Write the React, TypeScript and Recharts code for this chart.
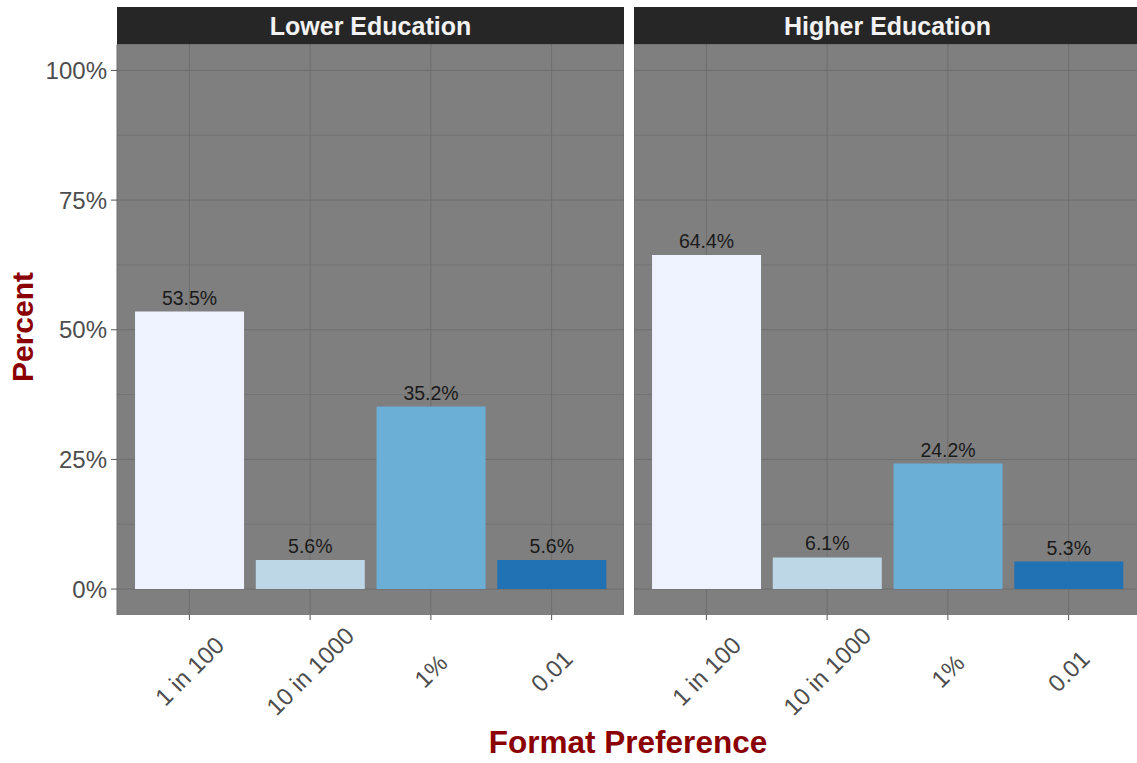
import React from "react";
import {
  Bar,
  BarChart,
  CartesianGrid,
  Cell,
  LabelList,
  XAxis,
  YAxis,
} from "recharts";

const formats = ["1 in 100", "10 in 1000", "1%", "0.01"];
const lowerPct = [53.5, 5.6, 35.2, 5.6];
const higherPct = [64.4, 6.1, 24.2, 5.3];
const fills = ["#eff3ff", "#bdd7e7", "#6baed6", "#2171b5"];
const yTicks = [0, 25, 50, 75, 100];
const yMinor = [12.5, 37.5, 62.5, 87.5];
const panels = ["Lower Education", "Higher Education"];

const FONT = "'Liberation Sans', Arial, Helvetica, sans-serif";
const PANEL_BG = "#7f7f7f";
const GRID_MAJOR = "#6e6e6e";
const GRID_MINOR = "#747474";
const TITLE_RED = "#8b0000";

const PLOT_TOP = 44.5;
const PLOT_BOTTOM = 615;
const CHART_H = 763;

function XTick(props: any) {
  const { x, y, payload } = props;
  const cy = y + 51;
  return (
    <text
      x={x}
      y={cy}
      textAnchor="middle"
      dominantBaseline="central"
      transform={`rotate(-45, ${x}, ${cy})`}
      fontSize={24}
      fontFamily={FONT}
      fill="#4d4d4d"
    >
      {payload.value}
    </text>
  );
}

function Panel({ values, showY }: { values: number[]; showY: boolean }) {
  const data = formats.map((f, i) => ({ format: f, pct: values[i] }));
  const yWidth = showY ? 117 : 0;
  return (
    <BarChart
      width={yWidth + 507}
      height={CHART_H}
      data={data}
      margin={{ top: PLOT_TOP, right: 0, bottom: 0, left: 0 }}
      barCategoryGap="5%"
    >
      {/* minor grid + panel fill, then major grid on top of it */}
      <CartesianGrid
        fill={PANEL_BG}
        stroke={GRID_MINOR}
        vertical={false}
        horizontalValues={yMinor}
      />
      <CartesianGrid
        stroke={GRID_MAJOR}
        strokeWidth={1}
        horizontalValues={yTicks}
        vertical={true}
      />
      <XAxis
        dataKey="format"
        height={CHART_H - PLOT_BOTTOM}
        padding={{ left: 12, right: 12 }}
        axisLine={false}
        tickLine={{ stroke: "#555555" }}
        tickSize={5}
        tickMargin={0}
        interval={0}
        tick={<XTick />}
      />
      <YAxis
        hide={!showY}
        width={yWidth}
        domain={[-5, 105]}
        ticks={yTicks}
        allowDataOverflow
        axisLine={false}
        tickLine={{ stroke: "#555555" }}
        tickSize={6}
        tickMargin={4}
        tickFormatter={(v: number) => `${v}%`}
        tick={{ fontSize: 24, fill: "#4d4d4d", fontFamily: FONT }}
      />
      <Bar dataKey="pct" isAnimationActive={false}>
        {data.map((d, i) => (
          <Cell key={d.format} fill={fills[i]} />
        ))}
        <LabelList
          dataKey="pct"
          position="top"
          offset={7}
          formatter={(v: any) => `${Number(v).toFixed(1)}%`}
          style={{ fontSize: 19.5, fill: "#1a1a1a", fontFamily: FONT }}
        />
      </Bar>
    </BarChart>
  );
}

export default function App() {
  const stripLefts = [117, 634];
  return (
    <div
      style={{
        position: "absolute",
        left: 0,
        top: 0,
        width: 1137,
        height: 763,
        overflow: "hidden",
        background: "#ffffff",
        fontFamily: FONT,
      }}
    >
      <div style={{ position: "absolute", left: 0, top: 0 }}>
        <Panel values={lowerPct} showY={true} />
      </div>
      <div style={{ position: "absolute", left: 634, top: 0 }}>
        <Panel values={higherPct} showY={false} />
      </div>
      <svg
        width={1137}
        height={763}
        style={{ position: "absolute", left: 0, top: 0, pointerEvents: "none" }}
      >
        {panels.map((p, i) => (
          <g key={p}>
            <rect x={stripLefts[i]} y={7} width={507} height={37.5} fill="#262626" />
            <text
              x={stripLefts[i] + 253.5}
              y={35}
              textAnchor="middle"
              fontSize={25}
              fontWeight="bold"
              fill="#f2f2f2"
              fontFamily={FONT}
            >
              {p}
            </text>
          </g>
        ))}
        <text
          x={33}
          y={327}
          transform="rotate(-90, 33, 327)"
          textAnchor="middle"
          fontSize={30}
          fontWeight="bold"
          fill={TITLE_RED}
          fontFamily={FONT}
        >
          Percent
        </text>
        <text
          x={628}
          y={753}
          textAnchor="middle"
          fontSize={31.5}
          fontWeight="bold"
          fill={TITLE_RED}
          fontFamily={FONT}
        >
          Format Preference
        </text>
      </svg>
    </div>
  );
}
